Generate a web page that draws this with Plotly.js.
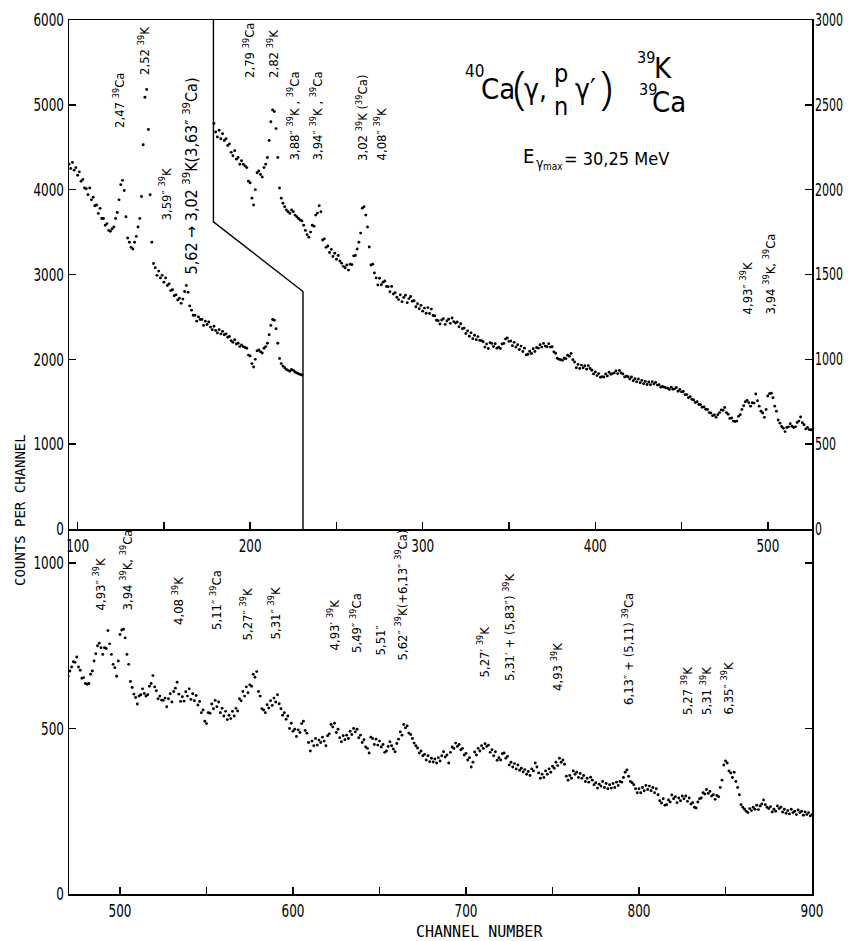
<!DOCTYPE html>
<html><head><meta charset="utf-8">
<script src="https://cdn.plot.ly/plotly-3.0.1.min.js"></script>
<style>html,body{margin:0;padding:0;background:#fff}#chart{width:848px;height:941px}</style>
</head><body><div id="chart"></div>
<script>
// ---- DATA: gamma spectrum, counts per channel, one value per channel ----
const firstChannel = 95;
const counts095 = [
4300,4250,4320,4230,4260,4170,4210,4100,4120,4020,
4010,3940,4020,3880,3910,3810,3820,3720,3780,3660,
3660,3580,3600,3520,3510,3540,3560,3660,3730,3880,
4060,4110,3990,3680,3430,3380,3320,3300,3380,3450,
3560,3660,3920,4530,5090,5180,4710,3940,3380,3130,
3080,2990,3040,2960,2990,2910,2960,2870,2890,2810,
2820,2750,2760,2700,2720,2660,2710,2800,2870,2790,
2630,2580,2520,2520,2450,2500,2470,2470,2400,2450,
2410,2440,2380,2350,2390,2340,2310,2350,2300,2330,
2290,2300,2260,2270,2220,2200,2230,2180,2190,2150,
2170,2150,2140,2130,2050,2040,1950,1910,2000,2100,
2110,2090,2075,2130,2150,2190,2290,2400,2470,2460,
2360,2190,2010,1950,1920,1900,1880,1870,1860,1880,
1870,1850,1840,1830,1821,1815,1790,1760,1735,1720];
const counts235 = [
1750,1790,1785,1850,1862,1905,1870,1703,1710,1660,
1668,1630,1648,1606,1625,1590,1612,1580,1567,1548,
1540,1556,1526,1560,1558,1610,1612,1650,1690,1744,
1891,1900,1850,1780,1662,1556,1560,1509,1480,1438,
1478,1440,1455,1462,1430,1428,1398,1430,1385,1392,
1366,1352,1380,1340,1364,1378,1334,1358,1370,1342,
1346,1310,1328,1298,1318,1284,1302,1272,1305,1270,
1296,1258,1256,1230,1228,1208,1232,1240,1206,1226,
1236,1212,1244,1222,1214,1220,1192,1210,1180,1184,
1152,1168,1136,1156,1122,1142,1116,1134,1112,1110,
1104,1072,1090,1064,1098,1094,1076,1092,1066,1072,
1064,1090,1094,1120,1126,1106,1108,1080,1100,1072,
1086,1058,1078,1046,1066,1026,1030,1048,1034,1062,
1046,1070,1066,1086,1072,1094,1078,1074,1092,1072,
1074,1044,1036,1006,1000,998,994,1006,1004,1024,
1018,1034,998,984,950,970,946,966,950,962,
942,962,946,936,914,926,904,916,894,898,
896,914,902,924,912,916,920,932,916,934,
920,914,896,900,898,884,896,874,886,868,
884,862,876,856,870,852,866,850,868,854,
864,848,850,836,840,836,832,830,822,836,
824,826,834,812,822,808,810,792,792,774,
780,764,760,746,750,734,732,718,720,706,
704,686,684,668,672,658,674,686,702,700,
716,686,676,652,654,636,634,636,664,674,
704,726,750,758,744,724,744,742,796,756,
724,694,684,658,704,784,798,800,774,724,
694,642,624,604,594,574,598,602,620,606,
598,602,628,636,660,626,614,590,598,586];
const counts525 = [
585,
592,566,590,605,580,612,622,640,604,582,
596,583,611,598,620,588,605,584,600,571,
582,548,556,522,515,548,546,574,560,585,
566,580,548,561,538,552,527,540,530,552,
538,561,553,590,584,612,598,626,608,632,
628,664,655,672,612,598,560,556,548,572,
562,584,570,592,580,602,575,560,540,548,
528,538,500,516,492,498,476,496,488,515,
522,494,486,458,432,462,448,470,450,465,
458,474,462,448,478,484,512,505,516,488,
498,472,460,478,466,480,470,492,482,500,
490,498,472,480,458,466,444,440,426,474,
470,452,468,450,462,444,452,428,432,446,
460,448,438,430,455,468,490,480,512,502,
508,486,482,470,456,448,441,426,432,418,
422,405,418,400,410,399,408,396,412,402,
418,430,414,420,396,428,444,440,456,446,
452,436,440,420,425,405,412,384,398,429,
420,440,432,448,440,454,446,450,428,436,
418,430,404,412,405,424,426,410,416,390,
398,384,394,378,390,374,380,369,376,362,
370,358,378,372,396,384,366,350,362,352,
372,362,378,368,386,380,398,388,410,398,
405,392,356,344,358,350,372,362,368,352,
364,350,358,340,350,338,353,344,330,336,
320,332,326,340,322,334,318,330,320,334,
322,338,328,340,338,352,368,375,356,340,
336,330,318,306,318,306,322,312,328,316,
326,312,322,306,318,300,282,275,288,268,
270,284,278,299,288,294,276,290,282,296,
288,296,280,290,272,276,262,260,278,288,
290,306,302,316,304,310,296,300,286,298,
294,322,344,390,402,396,372,366,352,368,
340,322,300,270,262,256,250,246,258,252,
262,256,268,255,266,272,284,270,262,258,
264,248,256,250,266,258,262,248,256,244,
252,242,256,246,250,240,254,246,250,238,
248,240,246,236,240];

// channel windows of the three displayed pieces
const leftPieceRange  = [95, 230];   // top panel, left axis
const rightPieceRange = [179, 525];  // top panel, right axis (x2 scale)
const lowerPieceRange = [470, 900];  // bottom panel

// boundary line in top panel (channel, counts on left axis)
const boundaryChannels = [178.7, 178.7, 230.6, 230.6];
const boundaryCounts   = [6000, 3620, 2800, 0];

// tick values
const topXTicks = [100,150,200,250,300,350,400,450,500];
const bottomXTicks = [500,550,600,650,700,750,800,850,900];
const leftYTicks = [0,1000,2000,3000,4000,5000,6000];
const rightYTicks = [0,500,1000,1500,2000,2500,3000];
const bottomYTicks = [0,500,1000];

// line identifications (rotated labels)
const topLabels = [
 "2,47 <sup>39</sup>Ca", "2,52 <sup>39</sup>K", "3,59″ <sup>39</sup>K",
 "5,62 → 3,02 <sup>39</sup>K(3,63″ <sup>39</sup>Ca)",
 "2,79 <sup>39</sup>Ca", "2,82 <sup>39</sup>K",
 "3,88″ <sup>39</sup>K , <sup>39</sup>Ca", "3,94″ <sup>39</sup>K , <sup>39</sup>Ca",
 "3,02 <sup>39</sup>K (<sup>39</sup>Ca)", "4,08″ <sup>39</sup>K",
 "4,93″ <sup>39</sup>K", "3,94 <sup>39</sup>K, <sup>39</sup>Ca"];
const bottomLabels = [
 "4,93″ <sup>39</sup>K", "3,94 <sup>39</sup>K, <sup>39</sup>Ca", "4,08 <sup>39</sup>K",
 "5,11″ <sup>39</sup>Ca", "5,27″ <sup>39</sup>K", "5,31″ <sup>39</sup>K",
 "4,93′ <sup>39</sup>K", "5,49″ <sup>39</sup>Ca", "5,51″",
 "5,62″ <sup>39</sup>K(+6,13″ <sup>39</sup>Ca)",
 "5,27′ <sup>39</sup>K", "5,31′ + (5,83″) <sup>39</sup>K", "4,93 <sup>39</sup>K",
 "6,13″ + (5,11) <sup>39</sup>Ca", "5,27 <sup>39</sup>K", "5,31 <sup>39</sup>K", "6,35″ <sup>39</sup>K"];

// ---- build ----
const spectrum = [].concat(counts095, counts235, counts525);
const channels = spectrum.map((_, i) => firstChannel + i);
function piece(r){
  const xs=[], ys=[];
  channels.forEach((c,i)=>{ if(c>=r[0] && c<=r[1]){ xs.push(c); ys.push(spectrum[i]); } });
  return {x:xs, y:ys};
}
const pL = piece(leftPieceRange), pR = piece(rightPieceRange), pB = piece(lowerPieceRange);

const F = "'DejaVu Sans Condensed','DejaVu Sans',sans-serif";
const MONO = "'DejaVu Sans Mono',monospace";
const mk = {color:'#000', size:2.9};
const traces = [
 {x:pL.x, y:pL.y, xaxis:'x', yaxis:'y', mode:'markers', type:'scatter', marker:mk, hoverinfo:'skip'},
 {x:pR.x, y:pR.y, xaxis:'x', yaxis:'y2', mode:'markers', type:'scatter', marker:mk, hoverinfo:'skip'},
 {x:pB.x, y:pB.y, xaxis:'x2', yaxis:'y3', mode:'markers', type:'scatter', marker:mk, hoverinfo:'skip'},
 {x:boundaryChannels, y:boundaryCounts, xaxis:'x', yaxis:'y', mode:'lines', type:'scatter', line:{color:'#000', width:1.4}, hoverinfo:'skip'}
];

const Lp=69, Rp=812, Tp=20, Bp=894, split=529;
const W=848, H=941;
function fx(x){return (x-Lp)/(Rp-Lp);} function fy(y){return (Bp-y)/(Bp-Tp);}
const splitFrac = fy(split);

const topLabelPos = [[119,130],[144,77],[166,223],[191,277],[249,80],[273,80],[294,163],[317,163],[362,163],[381,163],[747,317],[770,317]];
const bottomLabelPos = [[99,613],[126,613],[178,627],[216,632],[246,643],[274,642],[333,653],[356,655],[380,658],[401,663],[483,680],[509,683],[557,693],[628,707],[687,717],[706,717],[727,717]];

const ann = [];
function rot(t, p, size){ ann.push({text:t, xref:'paper', yref:'paper', x:fx(p[0]), y:fy(p[1]), xanchor:'center', yanchor:'bottom', textangle:-90, showarrow:false, font:{family:F, size:size, color:'#000'}}); }
topLabels.forEach((t,i)=>rot(t, topLabelPos[i], i===3?16:13));
bottomLabels.forEach((t,i)=>rot(t, bottomLabelPos[i], 13));
function txt(t, x, y, size, xa, fam, w){ ann.push({text:t, xref:'paper', yref:'paper', x:fx(x), y:fy(y), xanchor:xa||'center', yanchor:'middle', showarrow:false, borderpad:0, font:{family:fam||F, size:size, color:'#000', weight:w||'normal'}}); }
// reaction title
txt("40", 475, 71, 17); txt("Ca", 498, 89, 29);
txt("(", 519, 86, 46, 'center', "'Noto Sans',sans-serif", 300); txt("γ,", 535, 89, 28);
txt("p<br>n", 561, 90, 25);
txt("γ′", 585, 89, 28); txt(")", 606, 86, 46, 'center', "'Noto Sans',sans-serif", 300);
txt("39", 646, 57, 16); txt("K", 663, 68, 29);
txt("39", 648, 90, 16); txt("Ca", 669, 102, 29);
txt("E", 528, 156, 20); txt("γ", 540, 163, 14); txt("max", 553, 167, 10);
txt("= 30,25 MeV", 563, 158, 18, 'left');
// axis titles
ann.push({text:"COUNTS PER CHANNEL", xref:'paper', yref:'paper', x:fx(20), y:fy(510), xanchor:'center', yanchor:'middle', textangle:-90, showarrow:false, font:{family:MONO, size:14, color:'#000'}});
ann.push({text:"CHANNEL NUMBER", xref:'paper', yref:'paper', x:fx(480), y:fy(932), xanchor:'center', yanchor:'middle', showarrow:false, font:{family:MONO, size:15, color:'#000'}});

const axBase = {ticks:'inside', ticklen:7, tickwidth:1.5, tickcolor:'#000', showline:true, linewidth:1.5, linecolor:'#000', showgrid:false, zeroline:false, tickfont:{family:F, size:18, color:'#000'}, fixedrange:true};
function lab(v){ return v.map(t => t%100===0 ? String(t) : ''); }
const layout = {
  width:W, height:H, margin:{l:Lp, r:W-Rp, t:Tp, b:H-Bp}, showlegend:false, hovermode:false,
  paper_bgcolor:'#fff', plot_bgcolor:'#fff',
  xaxis: Object.assign({}, axBase, {domain:[0,1], anchor:'y', range:[95,525.6], tickvals:topXTicks, ticktext:lab(topXTicks), mirror:true}),
  yaxis: Object.assign({}, axBase, {domain:[splitFrac,1], anchor:'x', range:[0,6000], tickvals:leftYTicks}),
  yaxis2: Object.assign({}, axBase, {overlaying:'y', side:'right', anchor:'x', range:[0,3000], tickvals:rightYTicks, tickfont:{family:F, size:17, color:'#000'}}),
  xaxis2: Object.assign({}, axBase, {domain:[0,1], anchor:'y3', range:[470.5,900], tickvals:bottomXTicks, ticktext:lab(bottomXTicks)}),
  yaxis3: Object.assign({}, axBase, {domain:[0,splitFrac], anchor:'x2', range:[0,1103], tickvals:bottomYTicks, mirror:'ticks'}),
  annotations: ann
};
Plotly.newPlot('chart', traces, layout, {staticPlot:true, displayModeBar:false}).then(function(gd){
  // narrow the tick-label lettering like the condensed typeface of the original
  gd.querySelectorAll('g.xtick > text, g.x2tick > text, g.ytick > text, g.y3tick > text').forEach(function(t){
    const len = t.getComputedTextLength();
    if(len > 0){ t.setAttribute('textLength', (len*0.74).toFixed(1)); t.setAttribute('lengthAdjust','spacingAndGlyphs'); }
  });
  gd.querySelectorAll('g.y2tick > text').forEach(function(t){
    const len = t.getComputedTextLength();
    if(len > 0){
      t.setAttribute('textLength', (len*0.72).toFixed(1)); t.setAttribute('lengthAdjust','spacingAndGlyphs');
      const x0 = parseFloat(t.getAttribute('x')) || 0; t.setAttribute('x', (x0-2).toFixed(1));
    }
  });
});
</script></body></html>
